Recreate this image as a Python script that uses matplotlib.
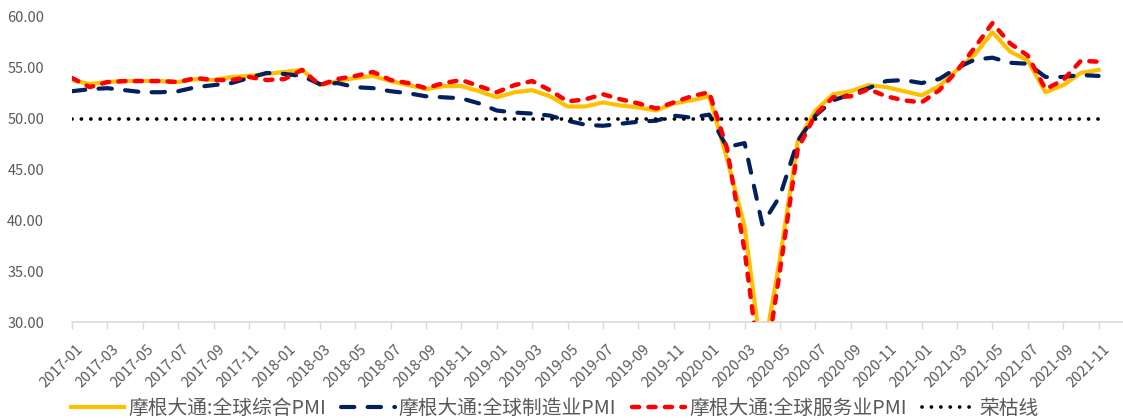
import matplotlib
matplotlib.use("Agg")
import matplotlib.pyplot as plt
import matplotlib.transforms as mtransforms
import numpy as np

plt.rcParams['font.family'] = ['Noto Sans CJK SC', 'DejaVu Sans']

# 月度数据 2017-01 ~ 2021-11
months = [f"{y}-{m:02d}" for y in range(2017, 2022) for m in range(1, 13)][:59]

composite = [
    53.8, 53.4, 53.6, 53.7, 53.7, 53.7, 53.6, 53.9, 53.8, 54.1, 54.2, 54.4,
    54.6, 54.8, 53.3, 53.7, 54.0, 54.2, 53.7, 53.3, 52.9, 53.2, 53.2, 52.7,
    52.1, 52.6, 52.8, 52.2, 51.2, 51.2, 51.6, 51.3, 51.1, 50.8, 51.5, 51.8,
    52.2, 46.1, 39.4, 26.2, 36.3, 47.8, 50.8, 52.4, 52.7, 53.3, 53.1, 52.7,
    52.3, 53.2, 54.8, 56.3, 58.5, 56.6, 55.7, 52.6, 53.3, 54.5, 54.8,
]
manufacturing = [
    52.7, 52.9, 53.0, 52.8, 52.6, 52.6, 52.7, 53.1, 53.3, 53.5, 54.0, 54.5,
    54.4, 54.2, 53.4, 53.5, 53.1, 53.0, 52.7, 52.5, 52.2, 52.1, 52.0, 51.5,
    50.8, 50.6, 50.5, 50.3, 49.8, 49.4, 49.3, 49.5, 49.7, 49.8, 50.3, 50.1,
    50.4, 47.2, 47.6, 39.6, 42.4, 47.8, 50.3, 51.8, 52.4, 53.0, 53.7, 53.8,
    53.5, 53.9, 55.0, 55.8, 56.0, 55.5, 55.4, 54.1, 54.1, 54.3, 54.2,
]
services = [
    54.0, 53.1, 53.6, 53.7, 53.7, 53.7, 53.6, 54.0, 53.8, 53.8, 54.1, 53.8,
    53.9, 54.8, 53.3, 53.9, 54.2, 54.6, 53.8, 53.5, 53.0, 53.5, 53.8, 53.2,
    52.6, 53.3, 53.7, 52.8, 51.7, 51.9, 52.4, 51.9, 51.5, 51.0, 51.6, 52.2,
    52.6, 47.1, 37.0, 23.7, 35.1, 47.0, 50.4, 52.1, 52.2, 52.9, 52.2, 51.8,
    51.6, 52.8, 54.7, 57.0, 59.4, 57.4, 56.2, 52.9, 53.8, 55.7, 55.6,
]
boom_bust = [50.0] * len(months)

x = np.arange(len(months))
text_color = '#595959'

fig = plt.figure(figsize=(11.23, 4.18), dpi=100)
ax = fig.add_axes([72 / 1123, 1 - 322 / 418, 1 - 72 / 1123, (322 - 17) / 418])

ax.plot(x, composite, color='#FFC000', lw=3.0, solid_joinstyle='round',
        label='摩根大通:全球综合PMI', zorder=2)
ax.plot(x, manufacturing, color='#002060', lw=3.0, linestyle=(0, (3.2, 3.2)),
        dash_capstyle='round', label='摩根大通:全球制造业PMI', zorder=3)
ax.plot(x, services, color='#FF0000', lw=3.2, linestyle=(0, (1.6, 2.1)),
        dash_capstyle='round', label='摩根大通:全球服务业PMI', zorder=4)
ax.plot(x, boom_bust, color='black', lw=2.7, linestyle=(0, (0.01, 2.5)),
        dash_capstyle='round', label='荣枯线', zorder=5)

ax.set_ylim(30, 60)
ax.set_xlim(0, (1123 - 72) / 17.7)
ax.set_yticks(np.arange(30, 61, 5))
ax.set_yticklabels([f"{v:.2f}" for v in np.arange(30, 61, 5)])

ax.set_xticks(x[::2])
ax.set_xticklabels(months[::2], rotation=45, ha='right', va='center',
                   rotation_mode='anchor')

for side in ['top', 'right', 'left']:
    ax.spines[side].set_visible(False)
ax.spines['bottom'].set_color('#D9D9D9')
ax.spines['bottom'].set_linewidth(1.2)

ax.tick_params(axis='y', length=0, pad=20, labelsize=10.5, labelcolor=text_color)
ax.tick_params(axis='x', length=5, width=1.0, color='#D9D9D9', pad=13,
               labelsize=10.5, labelcolor=text_color)

# 日期标签整体右移
shift = mtransforms.ScaledTranslation(9 / 100, 0, fig.dpi_scale_trans)
for lbl in ax.get_xticklabels():
    lbl.set_transform(lbl.get_transform() + shift)

fig.legend(loc='center', bbox_to_anchor=(0.494, 1 - 408 / 418), ncol=4,
           frameon=False, fontsize=14.2, handlelength=2.7, handletextpad=0.2,
           columnspacing=0.8, labelcolor=text_color, borderaxespad=0,
           borderpad=0)

fig.savefig('out.png', dpi=100)
